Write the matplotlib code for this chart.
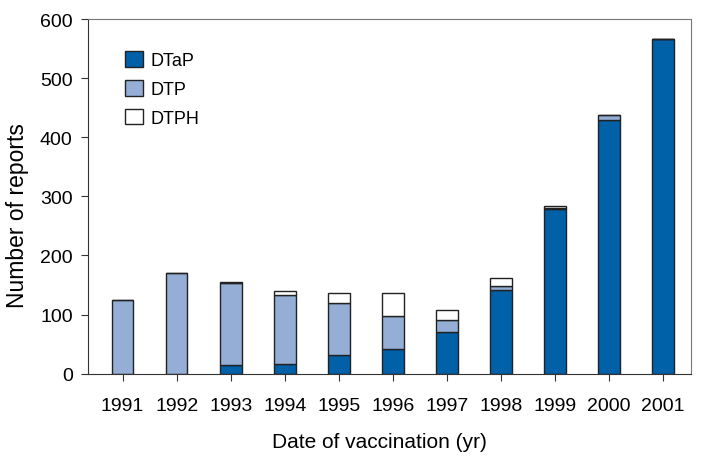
import numpy as np
import matplotlib
matplotlib.use('Agg')
import matplotlib.pyplot as plt

years = ['1991', '1992', '1993', '1994', '1995', '1996', '1997', '1998', '1999', '2000', '2001']
dtap = [0, 0, 14, 16, 32, 42, 71, 141, 278, 430, 567]
dtp = [125, 171, 139, 117, 87, 56, 20, 8, 2, 7, 0]
dtph = [0, 0, 2, 7, 17, 39, 16, 13, 3, 0, 0]

plt.rcParams['font.family'] = ['Liberation Sans', 'DejaVu Sans']

fig = plt.figure(figsize=(7.07, 4.6), dpi=100)
ax = fig.add_axes([0.1245, 0.1854, 0.8525, 0.7711])

x = np.arange(len(years))
w = 0.4
dtap = np.array(dtap)
dtp = np.array(dtp)
dtph = np.array(dtph)

ax.bar(x, dtap, w, color='#0060a8', edgecolor='#222222', linewidth=1, label='DTaP')
ax.bar(x, dtp, w, bottom=dtap, color='#94aed6', edgecolor='#222222', linewidth=1, label='DTP')
ax.bar(x, dtph, w, bottom=dtap + dtp, color='white', edgecolor='#222222', linewidth=1, label='DTPH')

ax.set_xlim(-0.64, 10.51)
ax.set_ylim(0, 600)
ax.set_xticks(x)
ax.set_xticklabels(years)
ax.set_yticks(range(0, 601, 100))
ax.tick_params(axis='both', direction='out', labelsize=14, length=5, color='#333333')
ax.tick_params(axis='x', pad=12)
ax.tick_params(axis='y', pad=6)
for s in ['top', 'right']:
    ax.spines[s].set_color('#777777')
for s in ['left', 'bottom']:
    ax.spines[s].set_color('#333333')

ax.set_xlabel('Date of vaccination (yr)', fontsize=15, va='center')
ax.set_ylabel('Number of reports', fontsize=16.5, va='center')
ax.xaxis.set_label_coords(0.484, -0.19)
ax.yaxis.set_label_coords(-0.117, 0.45)

ax.legend(loc='upper left', bbox_to_anchor=(0.035, 0.955), frameon=False, fontsize=13,
          handlelength=0.95, handleheight=0.95, handletextpad=0.45, labelspacing=0.6)

fig.savefig('out.png', dpi=100)
